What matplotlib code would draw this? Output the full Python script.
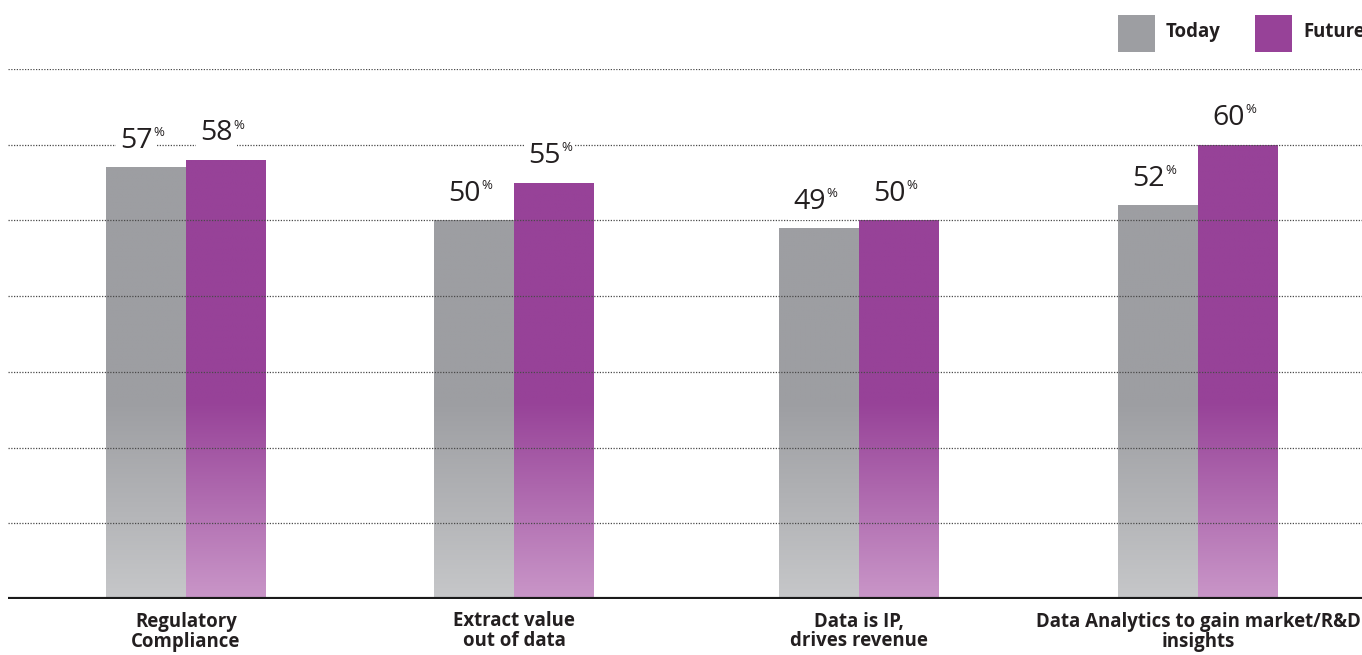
import numpy as np
import matplotlib
matplotlib.use("Agg")
import matplotlib.pyplot as plt
from matplotlib.patches import Rectangle
from matplotlib.colors import to_rgb

# ---- data ----
categories = ["Regulatory\nCompliance", "Extract value\nout of data",
              "Data is IP,\ndrives revenue", "Data Analytics to gain market/R&D\ninsights"]
today = [57, 50, 49, 52]
future = [58, 55, 50, 60]
series_names = ["Today", "Future"]

# ---- layout / style ----
W, H = 1362, 655
centers = [178, 506, 851, 1190]          # group centres in axis pixel units
bar_w = 80
gray_top, gray_bot = "#9d9ea2", "#c6c7c9"
purp_top, purp_bot = "#974298", "#c996c8"
fade_level = 26
text_color = "#231f20"
font = "Open Sans"

fig = plt.figure(figsize=(W / 100, H / 100), dpi=100)
ax = fig.add_axes([8 / W, (H - 599) / H, (W - 8) / W, (599 - 69) / H])
ax.set_xlim(0, W - 8)
ax.set_ylim(0, 70)
for s in ax.spines.values():
    s.set_visible(False)
ax.set_xticks([])
ax.set_yticks([])


def gradient_fill(patch, top, bot, value):
    n = 200
    ys = np.linspace(0, value, n)
    t = np.clip(ys / fade_level, 0, 1)[:, None]
    c0, c1 = np.array(to_rgb(bot)), np.array(to_rgb(top))
    img = (c0 * (1 - t) + c1 * t)[:, None, :]
    x0 = patch.get_x()
    im = ax.imshow(img, extent=[x0, x0 + patch.get_width(), 0, value], origin="lower",
                   aspect="auto", interpolation="bilinear", zorder=2)
    im.set_clip_path(patch)


xs = np.array(centers, dtype=float)
bars_t = ax.bar(xs - bar_w / 2, today, width=bar_w, color="none", edgecolor="none", zorder=2)
bars_f = ax.bar(xs + bar_w / 2, future, width=bar_w, color="none", edgecolor="none", zorder=2)
for p, v in zip(bars_t, today):
    gradient_fill(p, gray_top, gray_bot, v)
for p, v in zip(bars_f, future):
    gradient_fill(p, purp_top, purp_bot, v)

# gridlines (drawn over bars)
for g in range(10, 80, 10):
    ax.axhline(g, color="#4a4a4a", lw=0.9, ls=(0, (1, 1.2)), zorder=3)
ax.axhline(0, color="#1a1a1a", lw=3, zorder=5, solid_capstyle="butt")

# value labels
def value_label(x, v):
    ax.annotate(f"{v}", xy=(x, v), xytext=(5, 14), textcoords="offset points",
                ha="right", va="baseline", fontsize=20.5, family=font, color=text_color,
                bbox=dict(boxstyle="square,pad=0.15", fc="white", ec="none"), zorder=6)
    ax.annotate("%", xy=(x, v), xytext=(5.3, 22.5), textcoords="offset points",
                ha="left", va="baseline", fontsize=9.5, family=font, color=text_color,
                bbox=dict(boxstyle="square,pad=0.1", fc="white", ec="none"), zorder=6)

for x, v in zip(xs - bar_w / 2, today):
    value_label(x, v)
for x, v in zip(xs + bar_w / 2, future):
    value_label(x, v)

# category labels
for x, lab in zip(xs, categories):
    ax.annotate(lab, xy=(x, 0), xytext=(0, -9), textcoords="offset points",
                ha="center", va="top", fontsize=13.4, family=font, weight="bold",
                color=text_color, linespacing=1.0, annotation_clip=False)

# legend (manual)
leg_items = [(1118, gray_top, series_names[0]), (1255, purp_top, series_names[1])]
for px, col, name in leg_items:
    fig.add_artist(Rectangle((px / W, (H - 52) / H), 37 / W, 37 / H,
                             transform=fig.transFigure, facecolor=col, edgecolor="none"))
    fig.text((px + 48) / W, (H - 32) / H, name, ha="left", va="center", fontsize=13.4,
             family=font, weight="bold", color=text_color)

fig.savefig("out.png", dpi=100, facecolor="white")
